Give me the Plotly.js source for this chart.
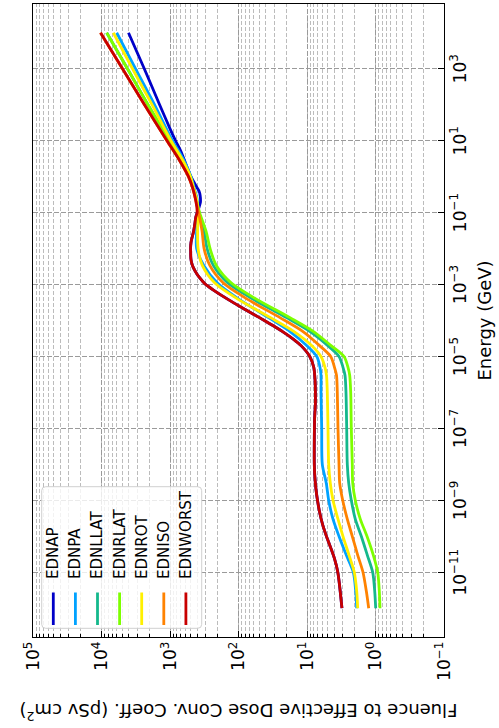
<!DOCTYPE html>
<html><head><meta charset="utf-8">
<script src="https://cdn.plot.ly/plotly-3.0.1.min.js"></script>
<style>
html,body{margin:0;padding:0;background:#fff;overflow:hidden;width:499px;height:728px;}
#plot{position:absolute;left:0;top:0;width:728px;height:499px;transform-origin:0 0;transform:translate(0,728px) rotate(-90deg);}
</style></head><body><div id="plot"></div>
<script>
// Energies (GeV) for EDNAP
const energyAP = [1e-12,1e-11,2.5e-11,1e-10,2e-10,5e-10,1e-9,2e-9,5e-9,1e-8,2e-8,5e-8,1e-7,2e-7,5e-7,1e-6,2e-6,5e-6,1e-5,2e-5,3e-5,5e-5,7e-5,1e-4,1.5e-4,2e-4,3e-4,5e-4,7e-4,9e-4,1e-3,1.2e-3,1.5e-3,2e-3,3e-3,4e-3,5e-3,6e-3,7e-3,8e-3,9e-3,1e-2,1.2e-2,1.4e-2,1.5e-2,1.6e-2,1.8e-2,2e-2,2.1e-2,3e-2,5e-2,7.5e-2,0.1,0.13,0.15,0.18,0.2,0.3,0.4,0.5,0.7,1,2,5,10,20,100,1000,10000];
const ednap = [3.09,3.55,4.00,5.20,5.87,6.59,7.03,7.39,7.71,7.82,7.84,7.82,7.79,7.73,7.54,7.54,7.61,7.97,9.11,12.2,15.7,23.0,30.6,41.9,60.6,78.8,114,177,232,279,301,330,365,407,458,483,494,498,499,499,500,500,499,495,493,490,484,477,474,453,433,420,402,382,373,363,359,363,377,404,446,494,574,691,831,983,1418,2373,4035];

// Energies (GeV) for EDNWORST
const energyWorst = [1e-12,1e-11,2.5e-11,1e-10,2e-10,5e-10,1e-9,2e-9,5e-9,1e-8,2e-8,5e-8,1e-7,2e-7,5e-7,1e-6,2e-6,5e-6,1e-5,2e-5,3e-5,5e-5,7e-5,1e-4,1.5e-4,2e-4,3e-4,5e-4,7e-4,9e-4,1e-3,1.2e-3,1.5e-3,2e-3,3e-3,4e-3,5e-3,6e-3,7e-3,8e-3,9e-3,1e-2,1.2e-2,1.4e-2,1.5e-2,1.6e-2,1.8e-2,2e-2,2.1e-2,3e-2,5e-2,7.5e-2,0.1,0.25,0.5,1,3,10,100,1000,10000];
const ednworst = [3.09,3.55,4.00,5.20,5.87,6.59,7.03,7.39,7.71,7.82,7.84,7.82,7.79,7.73,7.54,7.54,7.61,7.97,9.11,12.2,15.7,23.0,30.6,41.9,60.6,78.8,114,177,232,279,301,330,365,407,458,483,494,498,499,499,500,500,499,495,493,490,484,477,474,453,433,420,402,427.3,469.3,537.1,738.9,1106,2357,4937,10340];

// Energies (GeV) for the other geometries
const energyGrid = [1e-12,3e-12,1e-11,3e-11,1e-10,3e-10,1e-9,3e-9,1e-8,1e-7,1e-6,3e-6,5e-6,1e-5,2e-5,5e-5,1.2e-4,4e-4,1.1e-3,3.4e-3,1e-2,3e-2,0.1,0.25,0.5,1,3,10,100,1000,10000];
const ednpa   = [1.882,1.946,2.110,2.669,3.411,4.173,4.823,5.227,5.979,6.101,6.246,6.246,6.461,7.193,10.03,17.89,36.48,100.3,203.2,321.0,409.0,409.0,395.5,403.6,446.3,493.6,635.3,919.3,1684,3189,5999];
const ednllat = [0.9933,1.027,1.099,1.317,1.612,1.972,2.256,2.461,2.580,2.633,2.696,2.788,2.982,3.410,4.971,9.134,19.92,62.68,142.8,233.3,287.3,317.8,376.0,417.4,461.6,510.5,679.4,1017,2096,4174,8398];
const ednrlat = [0.8599,0.8801,0.9287,1.077,1.331,1.667,1.972,2.152,2.182,2.256,2.301,2.381,2.520,2.884,4.449,8.120,17.71,55.72,126.9,210.9,259.8,297.2,369.8,417.4,461.6,510.5,679.4,1017,2096,4174,8398];
const ednrot  = [1.819,1.882,2.040,2.437,2.982,3.527,4.173,4.570,4.823,4.937,5.054,5.192,5.462,6.246,8.482,15.64,34.11,103.8,221.1,337.7,388.9,395.4,391.5,410.4,453.9,502.1,661.4,967,1831,3527,6724];
const edniso  = [1.257,1.362,1.522,1.819,2.182,2.580,3.012,3.332,3.410,3.527,3.611,3.710,3.968,4.508,6.549,11.55,24.79,75.41,166.1,262.4,317.8,340.0,382.4,427.3,469.3,537.1,738.9,1106,2357,4937,10340];

const seriesNames = ['EDNAP','EDNPA','EDNLLAT','EDNRLAT','EDNROT','EDNISO','EDNWORST'];
const seriesColors = ['#0000c8','#00a2ff','#14b88c','#7dff00','#fff000','#ff8200','#c80000'];

const doseTickVals = [0.1,1,10,100,1000,10000,100000];
const doseTickText = ['10<sup>−1</sup>','10<sup>0</sup>','10<sup>1</sup>','10<sup>2</sup>','10<sup>3</sup>','10<sup>4</sup>','10<sup>5</sup>'];
const energyTickVals = [1e-11,1e-9,1e-7,1e-5,1e-3,1e-1,1e1,1e3];
const energyTickText = ['10<sup>−11</sup>','10<sup>−9</sup>','10<sup>−7</sup>','10<sup>−5</sup>','10<sup>−3</sup>','10<sup>−1</sup>','10<sup>1</sup>','10<sup>3</sup>'];

const xs = [energyAP, energyGrid, energyGrid, energyGrid, energyGrid, energyGrid, energyWorst];
const ys = [ednap, ednpa, ednllat, ednrlat, ednrot, edniso, ednworst];

const traces = seriesNames.map((n,i)=>({
  type:'scatter', mode:'lines', name:n, x:xs[i], y:ys[i],
  line:{color:seriesColors[i], width:2.8, shape:'spline', smoothing:0.8}
}));

// ---- legend drawn in the plot-area paper frame (plot area 633 x 411 px) ----
const PW = 633, PH = 411;
const px = u => u / PW;            // px offset from left edge of plot area
const py = v => 1 - v / PH;        // px offset from top edge of plot area
const box = {u0:8.7, u1:150.3, v0:8.7, v1:168.7, r:4};
const shapes = [];
const annotations = [];
{
  const {u0,u1,v0,v1,r} = box;
  const P = (u,v)=>px(u)+','+py(v);
  const path = 'M'+P(u0+r,v0)+' L'+P(u1-r,v0)+' Q'+P(u1,v0)+' '+P(u1,v0+r)+
               ' L'+P(u1,v1-r)+' Q'+P(u1,v1)+' '+P(u1-r,v1)+
               ' L'+P(u0+r,v1)+' Q'+P(u0,v1)+' '+P(u0,v1-r)+
               ' L'+P(u0,v0+r)+' Q'+P(u0,v0)+' '+P(u0+r,v0)+' Z';
  shapes.push({type:'path', xref:'paper', yref:'paper', path:path,
               fillcolor:'rgba(255,255,255,0.8)', line:{color:'#d0d0d0', width:1}, layer:'above'});
}
seriesNames.forEach((n,i)=>{
  const v = 20.3 + 22.1*i;
  shapes.push({type:'line', xref:'paper', yref:'paper', x0:px(12), x1:px(44.5), y0:py(v), y1:py(v),
               line:{color:seriesColors[i], width:2.8}, layer:'above'});
  annotations.push({xref:'paper', yref:'paper', x:px(56), y:py(v), xanchor:'left', yanchor:'middle',
               text:n, showarrow:false, font:{family:'DejaVu Sans, sans-serif', size:15, color:'#000'}});
});

const FF = 'DejaVu Sans, sans-serif';
const layout = {
  width:728, height:499,
  margin:{l:91, r:4, t:33, b:55},
  paper_bgcolor:'#fff', plot_bgcolor:'#fff',
  font:{family:FF, size:17, color:'#000'},
  showlegend:false,
  shapes:shapes, annotations:annotations,
  xaxis:{type:'log', range:[-12.8,4.8], tickmode:'array', tickvals:energyTickVals, ticktext:energyTickText,
         ticks:'inside', ticklen:6, tickcolor:'#000', showline:true, mirror:true, linecolor:'#000', linewidth:1.2,
         showgrid:true, gridcolor:'#9a9a9a', griddash:'5px,2px', gridwidth:1, zeroline:false,
         tickfont:{family:FF, size:17},
         title:{text:'Energy (GeV)', font:{family:FF, size:18}, standoff:9}},
  yaxis:{type:'log', range:[-1,5], tickmode:'array', tickvals:doseTickVals, ticktext:doseTickText,
         ticks:'inside', ticklen:6, tickcolor:'#000', showline:true, mirror:true, linecolor:'#000', linewidth:1.2,
         showgrid:true, gridcolor:'#9a9a9a', griddash:'5px,2px', gridwidth:1, zeroline:false,
         tickfont:{family:FF, size:17},
         minor:{dtick:'D1', ticks:'inside', ticklen:3, tickcolor:'#000', showgrid:true, gridcolor:'#ababab', griddash:'4px,2px', gridwidth:0.8},
         title:{text:'Fluence to Effective Dose Conv. Coeff. (pSv cm<sup>2</sup>)', font:{family:FF, size:18}, standoff:18}}
};
Plotly.newPlot('plot', traces, layout, {displayModeBar:false, staticPlot:true});
</script></body></html>
